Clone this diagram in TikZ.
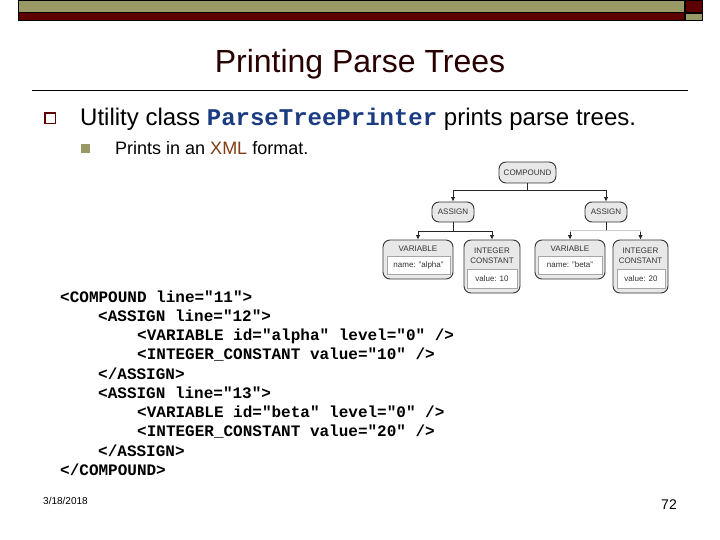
\documentclass[tikz,border=0pt]{standalone}
\usepackage{fontspec}
\setmainfont{Liberation Sans}
\setmonofont{Liberation Mono}
\usetikzlibrary{arrows.meta}
\definecolor{olivebar}{RGB}{153,153,102}
\definecolor{redbar}{RGB}{92,0,0}
\definecolor{titlecol}{RGB}{40,0,0}
\definecolor{codeblue}{RGB}{28,60,130}
\definecolor{xmlcol}{RGB}{130,60,20}
\definecolor{nodefill}{RGB}{232,232,232}
\tikzset{
  bar/.style={draw=black,line width=0.7pt},
  treebox/.style={draw=black!80,line width=0.9pt,fill=nodefill,rounded corners=7pt},
  innerbox/.style={draw=black!35,line width=0.5pt,fill=white,font=\fontsize{8}{9.5}\selectfont,text=black!80,inner sep=0pt},
  treelabel/.style={font=\fontsize{8}{10}\selectfont,text=black!80,align=center,inner sep=0pt},
  conn/.style={draw=black!85,line width=0.8pt},
  arr/.style={conn,-{Latex[length=4.5pt,width=4.5pt]}},
  codeline/.style={anchor=base west,inner sep=0pt,font=\ttfamily\bfseries\fontsize{16}{16}\selectfont},
}
\begin{document}
\begin{tikzpicture}[x=1pt,y=-1pt]
\useasboundingbox (0,0) rectangle (720,540);
\fill[white] (0,0) rectangle (720,540);
% header
\draw[bar,fill=olivebar] (18.5,0.5) rectangle (684,12.5);
\draw[bar,fill=redbar] (18.5,12.5) rectangle (684,20);
\draw[bar,fill=redbar] (685,0.5) rectangle (702,12.5);
\draw[bar,fill=olivebar] (685,13.5) rectangle (702,20);
% title
\node[anchor=base,inner sep=0pt,text=titlecol,font=\fontsize{32}{32}\selectfont] (title) at (360,73) {Printing Parse Trees};
\coordinate (ruleL) at (32,90.5);
\coordinate (ruleR) at (688,90.5);
\draw[black,line width=0.8pt] (ruleL) -- (ruleR);
% bullets
\draw[draw=redbar,line width=1.6pt] (45,113) rectangle (55.5,123.5);
\fill[olivebar] (81,144) rectangle (90,153);
\node[anchor=base west,inner sep=0pt,font=\fontsize{24}{24}\selectfont] (l1) at (80,126) {Utility class \textcolor{codeblue}{\ttfamily\bfseries\fontsize{24}{24}\selectfont ParseTreePrinter} prints parse trees.};
\node[anchor=base west,inner sep=0pt,font=\fontsize{18}{18}\selectfont] (l2) at (115,155) {Prints in an \textcolor{xmlcol}{XML} format.};
% tree
\node[treebox,minimum width=57pt,minimum height=21pt] (comp) at (527.5,172.5) {};
\node[treelabel] at (comp) {COMPOUND};
\node[treebox,minimum width=42pt,minimum height=20pt] (a1) at (453,212) {};
\node[treelabel] at (a1) {ASSIGN};
\node[treebox,minimum width=42pt,minimum height=20pt] (a2) at (606,212) {};
\node[treelabel] at (a2) {ASSIGN};
\node[treebox,minimum width=70pt,minimum height=39pt] (v1) at (418,259.5) {};
\node[treelabel] at (418,249) {VARIABLE};
\node[innerbox,minimum width=63pt,minimum height=18pt] (v1i) at (418.5,265) {name: "alpha"};
\node[treebox,minimum width=56pt,minimum height=53pt] (i1) at (492,266.5) {};
\node[treelabel] at (492,255.5) {INTEGER\\CONSTANT};
\node[innerbox,minimum width=50pt,minimum height=19pt] (i1i) at (492,278.5) {value: 10};
\node[treebox,minimum width=70pt,minimum height=39pt] (v2) at (570,259.5) {};
\node[treelabel] at (570,249) {VARIABLE};
\node[innerbox,minimum width=64pt,minimum height=18pt] (v2i) at (570,265) {name: "beta"};
\node[treebox,minimum width=55pt,minimum height=53pt] (i2) at (640.5,266.5) {};
\node[treelabel] at (640.5,255.5) {INTEGER\\CONSTANT};
\node[innerbox,minimum width=48pt,minimum height=19pt] (i2i) at (641,278.5) {value: 20};
\coordinate (j0) at (527.5,190);
\coordinate (j1) at (453,231);
\coordinate (j2) at (606,230);
\draw[conn] (comp.south) -- (j0);
\draw[arr] (j0) -| (a1.north);
\draw[arr] (j0) -| (a2.north);
\draw[conn] (a1.south) -- (j1);
\draw[arr] (j1) -| (v1.north);
\draw[arr] (j1) -| (i1.north);
\draw[conn] (a2.south) -- (j2);
\draw[draw=black!20,line width=0.5pt] (j2) -| (v2.north);
\draw[draw=black!20,line width=0.5pt] (j2) -| (i2.north);
\draw[arr] ([yshift=8pt]v2.north) -- (v2.north);
\draw[arr] ([yshift=8pt]i2.north) -- (i2.north);
% code
\node[codeline] (c1) at (60,302) {<COMPOUND line="11">};
\node[codeline] (c2) at (98,321) {<ASSIGN line="12">};
\node[codeline] (c3) at (137,340) {<VARIABLE id="alpha" level="0" />};
\node[codeline] (c4) at (137,359.5) {<INTEGER\_CONSTANT value="10" />};
\node[codeline] (c5) at (98,379) {</ASSIGN>};
\node[codeline] (c6) at (98,398) {<ASSIGN line="13">};
\node[codeline] (c7) at (137,417) {<VARIABLE id="beta" level="0" />};
\node[codeline] (c8) at (137,436.5) {<INTEGER\_CONSTANT value="20" />};
\node[codeline] (c9) at (98,456) {</ASSIGN>};
\node[codeline] (c10) at (60,475) {</COMPOUND>};
% footer
\node[anchor=base west,inner sep=0pt,font=\fontsize{10}{10}\selectfont] (date) at (43,504) {3/18/2018};
\node[anchor=base east,inner sep=0pt,font=\fontsize{14}{14}\selectfont] (page) at (677,509) {72};
\end{tikzpicture}
\end{document}
